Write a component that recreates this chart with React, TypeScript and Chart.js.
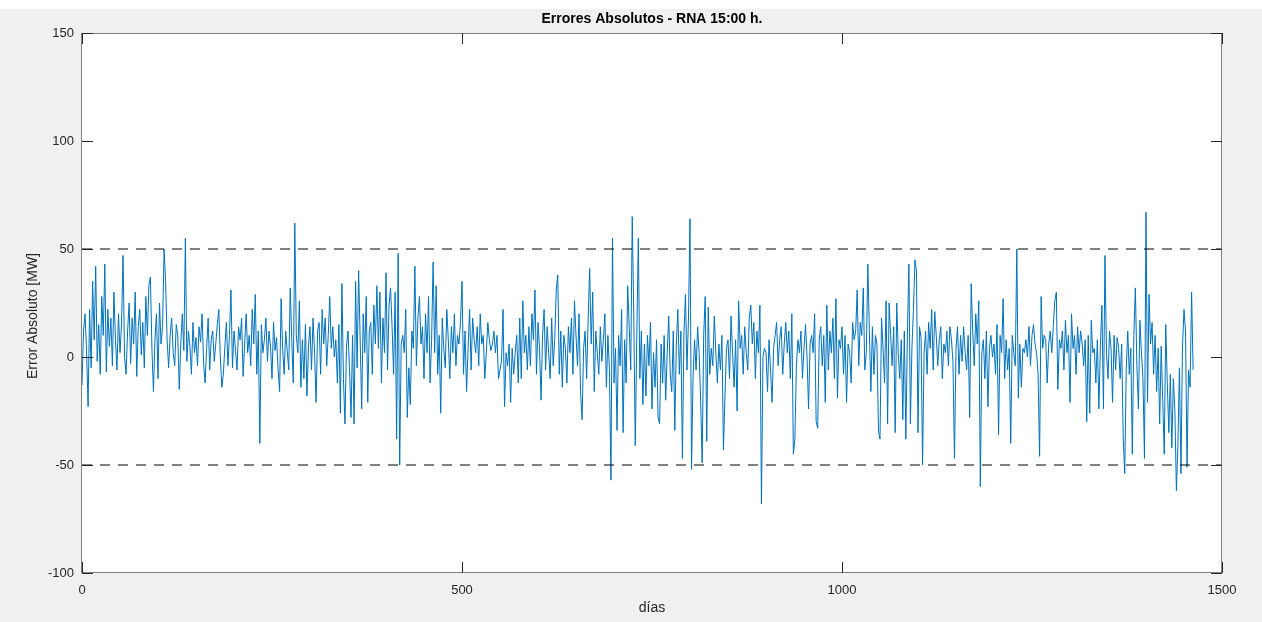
import React, { useEffect, useRef } from 'react';
import { Chart, registerables } from 'chart.js';

Chart.register(...registerables);

// Sampling step (days) between the listed values
const DAY_STEP = 2;

// Absolute errors [MW], days 0-398
const errTramo1 = [
  -13, 12, 20, 3, -23, 22, -5, 35, 8, 42,
  -2, 15, -8, 28, 10, 43, -7, 22, 5, 18,
  -4, 30, 8, -6, 20, 2, 15, 47, 0, -8,
  12, 25, -3, 18, 6, 30, -9, 14, 22, 1,
  16, -5, 28, 10, 33, 37, 4, -16, 8, 20,
  -10, 25, 6, 14, 50, 35, 8, -5, 10, 18,
  2, -4, 15, 10, -15, 6, 20, 3, 55, -2,
  12, 5, -8, 16, 2, 9, -4, 14, 7, 20,
  -3, -12, 4, 18, -6, 8, 12, -2, 6, 15,
  22, 0, -14, -8, 5, 16, -4, 10, 31, -5,
  12, 3, -6, 14, 8, 18, -9, 6, 20, 2,
  10, -4, 22, 6, 29, -8, 12, -40, 15, 2,
  8, 18, -2, 12, 5, -10, 16, 3, 9, -6,
  -16, 27, 4, -8, 12, 3, -6, 32, 8, -12,
  62, 10, 2, 26, -14, 8, -10, 15, -18, 5,
  14, -6, 18, 2, -21, 12, 16, -8, 22, 6,
  18, -4, 10, 28, 4, 14, 0, 8, -12, 15,
  -26, 34, -10, -31, 5, 12, -6, -28, 10, -31,
  35, -5, 40, 8, -24, 20, 2, 28, -21, 12,
  16, -8, 24, 6, 33, 4, 30, -12, 18, 2,
];

// days 400-798
const errTramo2 = [
  39, -6, 24, 32, 14, -8, 30, -38, 48, -50,
  6, 10, 2, 22, -28, -5, -22, 12, 4, 42,
  -4, 18, 28, 6, 14, -10, 20, 2, 28, -12,
  8, 44, 2, 33, -8, 10, -26, 18, 4, -5,
  22, 8, -10, 14, 2, 20, -4, 10, 6, 16,
  35, -8, 12, -16, 4, 22, -6, 18, 8, 2,
  14, -4, 20, 6, 10, -10, 2, 16, 8, 3,
  6, 12, 2, 10, -10, -6, -2, 22, -23, 2,
  -4, 6, -21, 4, -8, 2, 10, -12, 18, -10,
  26, 2, 10, -6, 14, -4, 20, 8, 31, -8,
  16, 4, -20, 10, 22, -6, 14, 2, -10, 18,
  -4, 8, 31, 38, -8, 12, -14, 10, 4, -12,
  14, 2, 18, -8, 26, 10, -4, 20, -16, -29,
  4, 12, -10, 18, 41, 6, 30, -16, 12, 2,
  -8, 14, -2, 8, 20, -14, 10, -6, -57, 55,
  -12, 4, -34, 10, -4, 22, -35, 8, -12, 33,
  14, -6, 65, 20, -41, 10, 55, -10, 12, -22,
  6, -18, 10, -4, 16, -24, 2, -14, 8, -28,
  -31, 6, -12, 10, -20, 2, 19, -8, -16, 12,
  -34, 6, 22, -8, 12, -47, 10, 29, -6, 18,
];

// days 800-1198
const errTramo3 = [
  64, -52, -10, 8, -6, 14, 2, -20, -49, 10,
  28, -39, 23, -8, 4, -4, 19, 2, -12, 6,
  -6, 10, -43, -18, 4, 8, -10, 19, 2, -14,
  8, -25, 26, 4, 10, -8, 14, 2, -6, 18,
  24, 6, 16, -10, 12, 2, 24, -68, 0, 4,
  2, -16, 8, -6, -21, 4, 10, 16, -4, 8,
  14, -8, 6, 16, 2, 12, -10, 20, -45, -38,
  -4, 8, 2, 12, -10, 4, 15, 0, -24, 6,
  10, 2, 20, -30, -33, 8, 14, -4, 10, -21,
  24, -6, 12, 2, 18, -10, 27, -19, 8, 4,
  14, -8, 10, -21, 6, 2, -12, 16, 8, 12,
  31, -4, 16, 10, 32, -6, 2, 43, 12, -16,
  14, -8, 10, 6, -34, -38, 18, 4, -12, 26,
  -31, 25, 10, -4, 14, -35, 25, 2, -10, 8,
  -29, 12, -38, 10, 43, -31, 4, 22, 45, 40,
  -35, 14, 9, -50, 2, 12, -8, 16, 4, 22,
  -6, 21, 10, -4, 8, 14, -10, 6, 2, 12,
  -4, 14, 8, -2, -47, 4, 14, -8, 10, -2,
  14, 2, -6, 10, -28, 34, 12, -4, 20, 6,
  26, -60, 2, 8, -10, 12, -23, 4, 10, 0,
];

// days 1200-1462
const errTramo4 = [
  6, -8, 15, -36, 10, 2, 27, -10, 8, -6,
  4, -40, 10, 2, -4, 50, -19, 6, -14, 4,
  2, 8, 0, 14, -4, 10, 15, 6, 2, -8,
  -46, 28, 4, 10, 8, -12, 6, 12, 2, 14,
  26, 30, -15, 8, 4, 12, -6, 17, 2, 10,
  -21, 20, 4, 10, -8, 14, 2, 12, 6, -4,
  8, -30, 10, -26, 17, 2, 4, -12, 8, -24,
  5, 24, -24, 47, 2, -10, 12, 4, -21, 10,
  -6, 9, 4, -10, 6, -37, -54, -6, 12, -8,
  4, -45, 10, 32, -4, -24, 17, 2, -10, -47,
  67, -21, 29, 6, 16, -8, 10, -16, 4, -31,
  5, -20, -45, 15, -12, -35, -8, -42, -10, -25,
  -62, -40, -5, -54, 5, 22, 12, -51, -6, -14,
  30, -6,
];

const xTicks = [0, 500, 1000, 1500];
const yTicks = [-100, -50, 0, 50, 100, 150];
const limites = [50, -50];
const titulo = 'Errores Absolutos - RNA 15:00 h.';
const xLabel = 'días';
const yLabel = 'Error Absoluto [MW]';

const FONT = 'Arial, "Liberation Sans", Helvetica, sans-serif';
const AX = '#262626';

export default function App() {
  const ref = useRef<HTMLCanvasElement | null>(null);

  useEffect(() => {
    const canvas = ref.current;
    if (!canvas) return;
    const errores = [...errTramo1, ...errTramo2, ...errTramo3, ...errTramo4];
    const puntos = errores.map((v, i) => ({ x: i * DAY_STEP, y: v }));
    const xMin = xTicks[0];
    const xMax = xTicks[xTicks.length - 1];

    const limitSets = limites.map((v) => ({
      data: [{ x: xMin, y: v }, { x: xMax, y: v }],
      borderColor: '#000000',
      borderWidth: 1,
      borderDash: [10, 8],
      pointRadius: 0,
      fill: false,
    }));

    const decor = {
      id: 'decor',
      beforeDraw(chart: any) {
        const { ctx, chartArea: a, width, height } = chart;
        ctx.save();
        ctx.fillStyle = '#ffffff';
        ctx.fillRect(0, 0, width, height);
        ctx.fillStyle = '#f0f0f0';
        ctx.fillRect(0, 9, width, height - 9);
        ctx.fillStyle = '#ffffff';
        ctx.fillRect(a.left, a.top, a.right - a.left, a.bottom - a.top);
        ctx.restore();
      },
      afterDraw(chart: any) {
        const { ctx, chartArea: a, scales } = chart;
        ctx.save();
        // box
        ctx.strokeStyle = '#808080';
        ctx.lineWidth = 1;
        ctx.strokeRect(Math.round(a.left) - 0.5, Math.round(a.top) + 0.5, Math.round(a.right - a.left), Math.round(a.bottom - a.top) - 1);
        // ticks inward
        ctx.strokeStyle = AX;
        const tl = 11;
        ctx.beginPath();
        xTicks.forEach((v) => {
          const px = Math.round(scales.x.getPixelForValue(v)) + 0.5;
          ctx.moveTo(px, a.bottom);
          ctx.lineTo(px, a.bottom - tl);
          ctx.moveTo(px, a.top);
          ctx.lineTo(px, a.top + tl);
        });
        yTicks.forEach((v) => {
          const py = Math.round(scales.y.getPixelForValue(v)) + 0.5;
          ctx.moveTo(a.left, py);
          ctx.lineTo(a.left + tl, py);
          ctx.moveTo(a.right, py);
          ctx.lineTo(a.right - tl, py);
        });
        ctx.stroke();
        // title
        ctx.fillStyle = '#000000';
        ctx.font = `bold 14px ${FONT}`;
        ctx.textAlign = 'center';
        ctx.textBaseline = 'middle';
        ctx.fillText(titulo, (a.left + a.right) / 2, 19);
        // x label
        ctx.fillStyle = AX;
        ctx.font = `14px ${FONT}`;
        ctx.fillText(xLabel, (a.left + a.right) / 2, 608);
        // y label
        ctx.translate(33, (a.top + a.bottom) / 2 + 13);
        ctx.rotate(-Math.PI / 2);
        ctx.fillText(yLabel, 0, 0);
        ctx.restore();
      },
    };

    const chart = new Chart(canvas, {
      type: 'line',
      data: {
        datasets: [
          ...limitSets,
          {
            data: puntos,
            borderColor: '#0072BD',
            borderWidth: 1,
            pointRadius: 0,
            tension: 0,
            fill: false,
          },
        ] as any,
      },
      options: {
        animation: false,
        responsive: false,
        devicePixelRatio: 1,
        layout: { padding: { top: 33, right: 40, bottom: 0, left: 0 } },
        plugins: { legend: { display: false }, tooltip: { enabled: false }, title: { display: false } },
        scales: {
          x: {
            type: 'linear',
            min: xMin,
            max: xMax,
            afterBuildTicks: (s: any) => { s.ticks = xTicks.map((v) => ({ value: v })); },
            afterFit: (s: any) => { s.height = 49; },
            grid: { display: false, drawTicks: false },
            border: { display: false },
            ticks: { color: AX, font: { family: FONT, size: 13 }, padding: 10, maxRotation: 0, autoSkip: false, callback: (v: any) => String(v) },
          },
          y: {
            type: 'linear',
            min: yTicks[0],
            max: yTicks[yTicks.length - 1],
            afterBuildTicks: (s: any) => { s.ticks = yTicks.map((v) => ({ value: v })); },
            afterFit: (s: any) => { s.width = 82; },
            grid: { display: false, drawTicks: false },
            border: { display: false },
            ticks: { color: AX, font: { family: FONT, size: 13 }, padding: 8, autoSkip: false, callback: (v: any) => String(v) },
          },
        },
      },
      plugins: [decor],
    } as any);
    return () => chart.destroy();
  }, []);

  return (
    <canvas
      ref={ref}
      width={1262}
      height={622}
      style={{ position: 'fixed', top: 0, left: 0, width: 1262, height: 622, display: 'block' }}
    />
  );
}
